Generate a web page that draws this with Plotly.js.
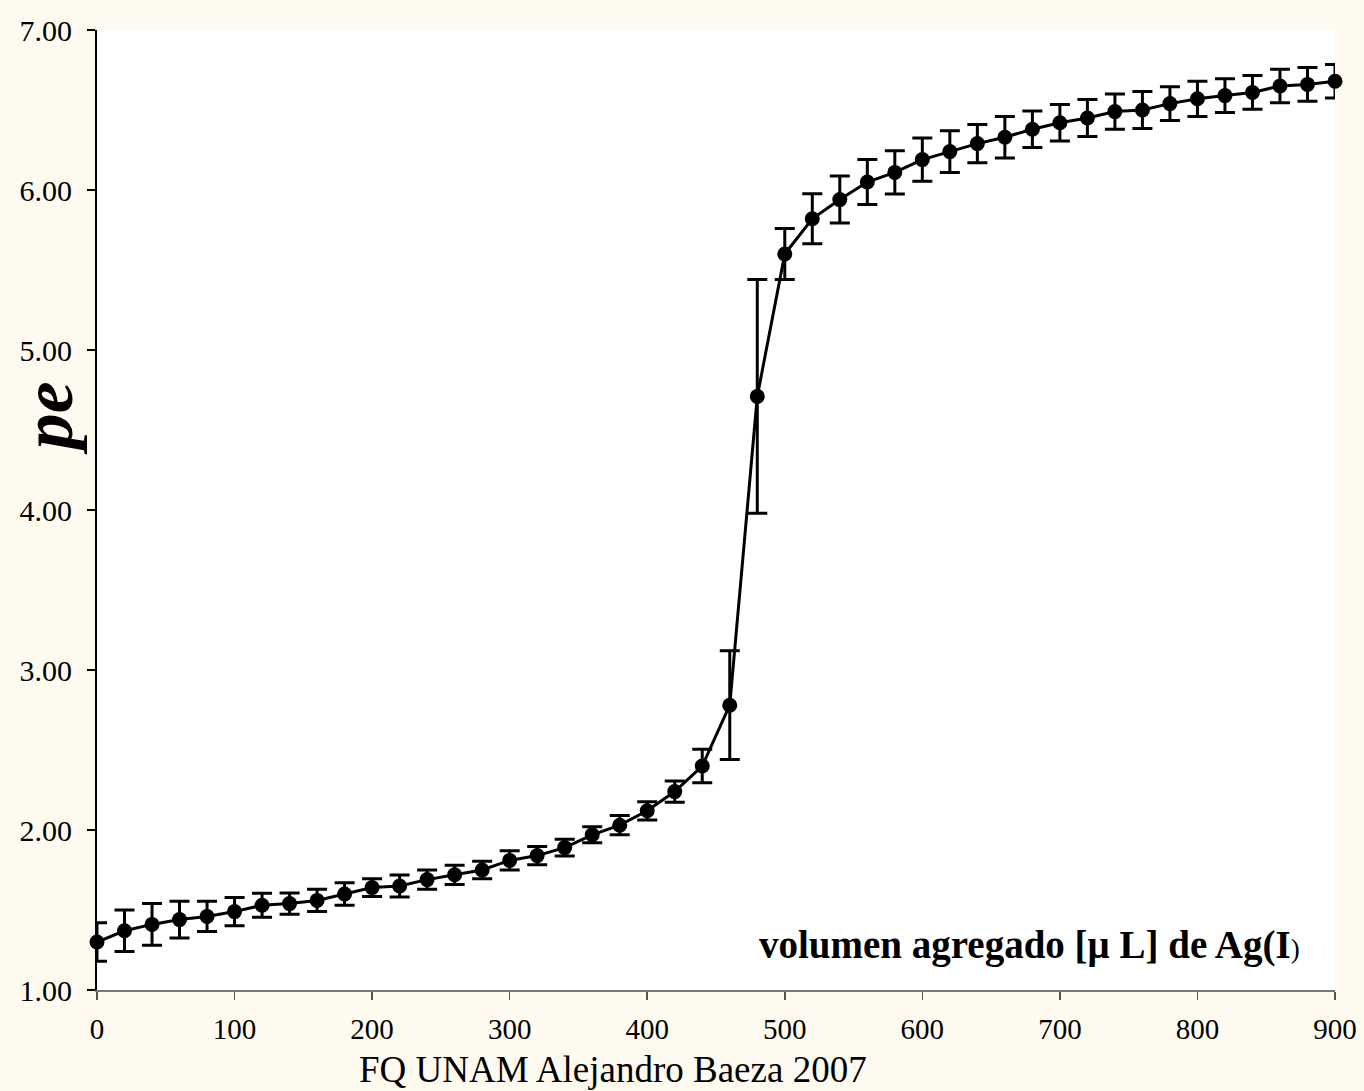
<!DOCTYPE html>
<html>
<head>
<meta charset="utf-8">
<script src="https://cdn.plot.ly/plotly-3.0.1.min.js"></script>
<style>
  html, body { margin: 0; padding: 0; background: #FFFAF0; }
  #chart { width: 1364px; height: 1091px; }
</style>
</head>
<body>
<div id="chart"></div>
<script>
// Volume of Ag(I) added (µL)
const volume = [0, 20, 40, 60, 80, 100, 120, 140, 160, 180,
                200, 220, 240, 260, 280, 300, 320, 340, 360, 380,
                400, 420, 440, 460, 480, 500, 520, 540, 560, 580,
                600, 620, 640, 660, 680, 700, 720, 740, 760, 780,
                800, 820, 840, 860, 880, 900];

// pe values
const pe = [1.30, 1.37, 1.41, 1.44, 1.46, 1.49, 1.53, 1.54, 1.56, 1.60,
            1.64, 1.65, 1.69, 1.72, 1.75, 1.81, 1.84, 1.89, 1.97, 2.03,
            2.12, 2.24, 2.40, 2.78, 4.71, 5.60, 5.82, 5.94, 6.05, 6.11,
            6.19, 6.24, 6.29, 6.33, 6.38, 6.42, 6.45, 6.49, 6.50, 6.54,
            6.57, 6.59, 6.61, 6.65, 6.66, 6.68];

// symmetric error (± pe)
const peError = [0.12, 0.13, 0.13, 0.115, 0.095, 0.088, 0.075, 0.067, 0.07, 0.07,
                 0.055, 0.068, 0.06, 0.06, 0.055, 0.06, 0.057, 0.052, 0.05, 0.06,
                 0.057, 0.066, 0.105, 0.34, 0.73, 0.16, 0.156, 0.147, 0.14, 0.135,
                 0.135, 0.13, 0.12, 0.13, 0.114, 0.114, 0.115, 0.11, 0.115, 0.105,
                 0.11, 0.105, 0.105, 0.105, 0.105, 0.105];

const xTicks = [0, 100, 200, 300, 400, 500, 600, 700, 800, 900];
const yTicks = [1, 2, 3, 4, 5, 6, 7];
const yTickLabels = ["1.00", "2.00", "3.00", "4.00", "5.00", "6.00", "7.00"];

const serif = "Liberation Serif, Times New Roman, serif";

const trace = {
  x: volume,
  y: pe,
  type: "scatter",
  mode: "lines+markers",
  line: { color: "#000000", width: 3 },
  marker: { color: "#000000", size: 15 },
  error_y: { type: "data", array: peError, visible: true, color: "#000000", thickness: 3, width: 10 },
  cliponaxis: false,
  showlegend: false,
  hoverinfo: "x+y"
};

const layout = {
  width: 1364,
  height: 1091,
  paper_bgcolor: "#FFFAF0",
  plot_bgcolor: "#FFFFFF",
  margin: { l: 97, r: 29, t: 30, b: 101 },
  showlegend: false,
  xaxis: {
    range: [0, 900],
    tickvals: xTicks,
    ticktext: xTicks.map(String),
    ticks: "outside",
    ticklen: 8,
    tickwidth: 1.5,
    tickcolor: "#555555",
    showline: true,
    linecolor: "#777777",
    linewidth: 2,
    showgrid: false,
    zeroline: false,
    ticklabelstandoff: 4,
    tickfont: { family: serif, size: 29, color: "#000000" }
  },
  xaxis2: {
    range: [0, 900],
    overlaying: "x",
    anchor: "y",
    side: "bottom",
    tickvals: xTicks,
    ticks: "inside",
    ticklen: 8,
    tickwidth: 1.5,
    tickcolor: "#555555",
    showticklabels: false,
    showline: false,
    showgrid: false,
    zeroline: false
  },
  yaxis: {
    range: [1, 7],
    tickvals: yTicks,
    ticktext: yTickLabels,
    ticks: "outside",
    ticklen: 8,
    tickwidth: 1.5,
    tickcolor: "#000000",
    showline: true,
    linecolor: "#000000",
    linewidth: 2,
    showgrid: false,
    zeroline: false,
    ticklabelstandoff: 9,
    tickfont: { family: serif, size: 30, color: "#000000" }
  },
  yaxis2: {
    range: [1, 7],
    overlaying: "y",
    anchor: "x",
    side: "left",
    tickvals: yTicks,
    ticks: "inside",
    ticklen: 8,
    tickwidth: 1.5,
    tickcolor: "#000000",
    showticklabels: false,
    showline: false,
    showgrid: false,
    zeroline: false
  },
  annotations: [
    {
      text: "<b><i>pe</i></b>",
      xref: "paper", yref: "paper",
      x: -0.04, y: 0.596,
      xanchor: "center", yanchor: "middle",
      textangle: -90,
      showarrow: false,
      font: { family: serif, size: 72, color: "#000000" }
    },
    {
      text: "FQ UNAM Alejandro Baeza 2007",
      xref: "paper", yref: "paper",
      x: 0.4168, y: -0.0833,
      xanchor: "center", yanchor: "middle",
      showarrow: false,
      font: { family: serif, size: 37, color: "#000000" }
    },
    {
      text: "<b>volumen agregado [μ L] de Ag(I</b><span style='font-size:27px'>)</span>",
      xref: "paper", yref: "paper",
      x: 0.7536, y: 0.0469,
      xanchor: "center", yanchor: "middle",
      showarrow: false,
      font: { family: serif, size: 39, color: "#000000" }
    }
  ]
};

Plotly.newPlot("chart", [trace], layout, { displayModeBar: false, staticPlot: true });
</script>
</body>
</html>
